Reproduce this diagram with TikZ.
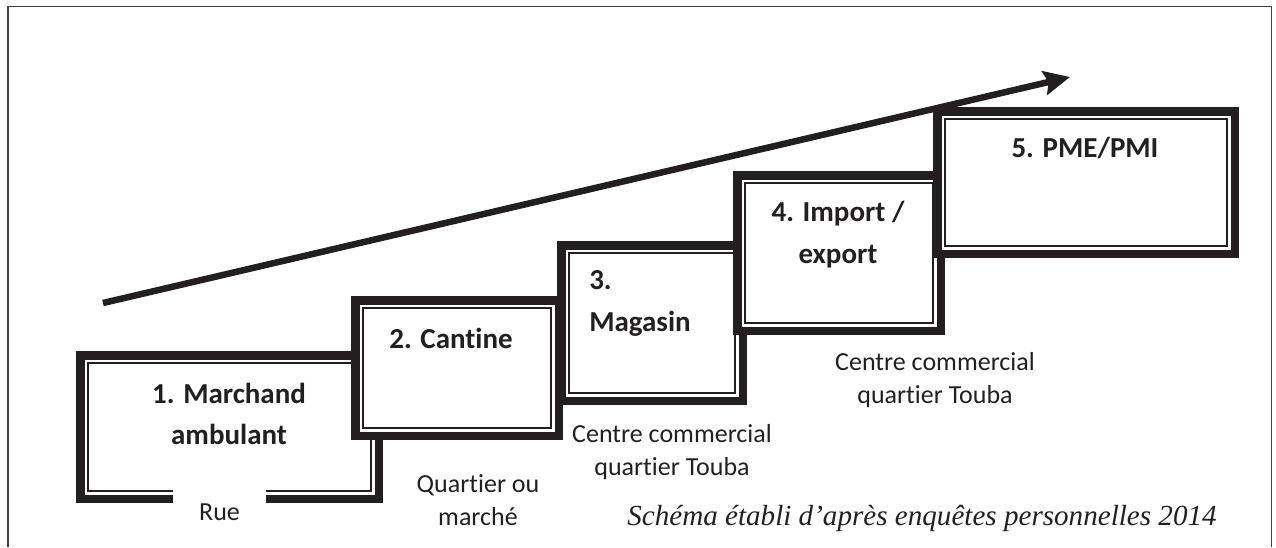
\documentclass[tikz,border=0pt]{standalone}
\usepackage{fontspec}
\setmainfont{Carlito}[Ligatures=NoCommon]
\newfontfamily\capfont{Liberation Serif}
\usepackage{tikz}
\usetikzlibrary{arrows.meta}

\definecolor{ink}{RGB}{35,31,32}
\newdimen\pxu
\pxu=0.025cm

\tikzset{
  stepbox/.style={draw=ink, fill=white, line width=8.5\pxu, inner sep=0pt, outer sep=0pt,
    path picture={\draw[ink, line width=1.8\pxu]
      ([shift={(7.65\pxu,7.65\pxu)}]path picture bounding box.south west) rectangle
      ([shift={(-7.65\pxu,-7.65\pxu)}]path picture bounding box.north east);}},
  steptitle/.style={text=ink, inner sep=0pt, font=\bfseries\fontsize{20.6}{29.5}\selectfont},
  place label/.style={text=ink, inner sep=0pt, align=center, font=\fontsize{18.5}{23.5}\selectfont}
}

\begin{document}
\begin{tikzpicture}[x=0.025cm,y=-0.025cm]
  \useasboundingbox (0,0) rectangle (1276,547);
  % frame, open at the bottom
  \draw[black!75, line width=1.5\pxu] (8,547) -- (8,6.5) -- (1271.5,6.5) -- (1271.5,547);

  % the five steps
  \node[stepbox, minimum width=298.5\pxu, minimum height=143.5\pxu] (b1) at (229.5,427) {};
  \node[stepbox, minimum width=203.5\pxu, minimum height=135.5\pxu] (b2) at (457,368) {};
  \node[stepbox, minimum width=181.5\pxu, minimum height=155.5\pxu] (b3) at (652,323) {};
  \node[stepbox, minimum width=203.5\pxu, minimum height=155.5\pxu] (b4) at (839,253) {};
  \node[stepbox, minimum width=297.5\pxu, minimum height=142.5\pxu] (b5) at (1086,182.5) {};

  \node[steptitle, align=center] (t1) at (229,414) {1. Marchand\\ambulant};
  \node[steptitle] (t2) at (451,338) {2. Cantine};
  \node[steptitle, align=left, anchor=west] (t3) at (589,303.5) {3.\\Magasin};
  \node[steptitle, align=center] (t4) at (838,234.5) {4. Import /\\export};
  \node[steptitle] (t5) at (1085,148) {5. PME/PMI};

  % places
  \node[place label, fill=white, minimum width=93\pxu, minimum height=52\pxu] (rue) at (219.5,512) {Rue};
  \node[place label] (quartier) at (478,500.5) {Quartier ou\\marché};
  \node[place label] (centre3) at (672,452) {Centre commercial\\quartier Touba};
  \node[place label] (centre4) at (935,380.5) {Centre commercial\\quartier Touba};

  % rising arrow
  \coordinate (low) at (103,303);
  \coordinate (high) at (1070,77);
  \draw[ink, line width=6.5\pxu, -{Stealth[length=0.65cm, width=0.6cm, inset=0.1cm]}] (low) -- (high);

  \node[text=ink, inner sep=0pt, font=\capfont\itshape\fontsize{20.7}{24}\selectfont] (source) at (922,518)
    {Schéma établi d’après enquêtes personnelles 2014};
\end{tikzpicture}
\end{document}
